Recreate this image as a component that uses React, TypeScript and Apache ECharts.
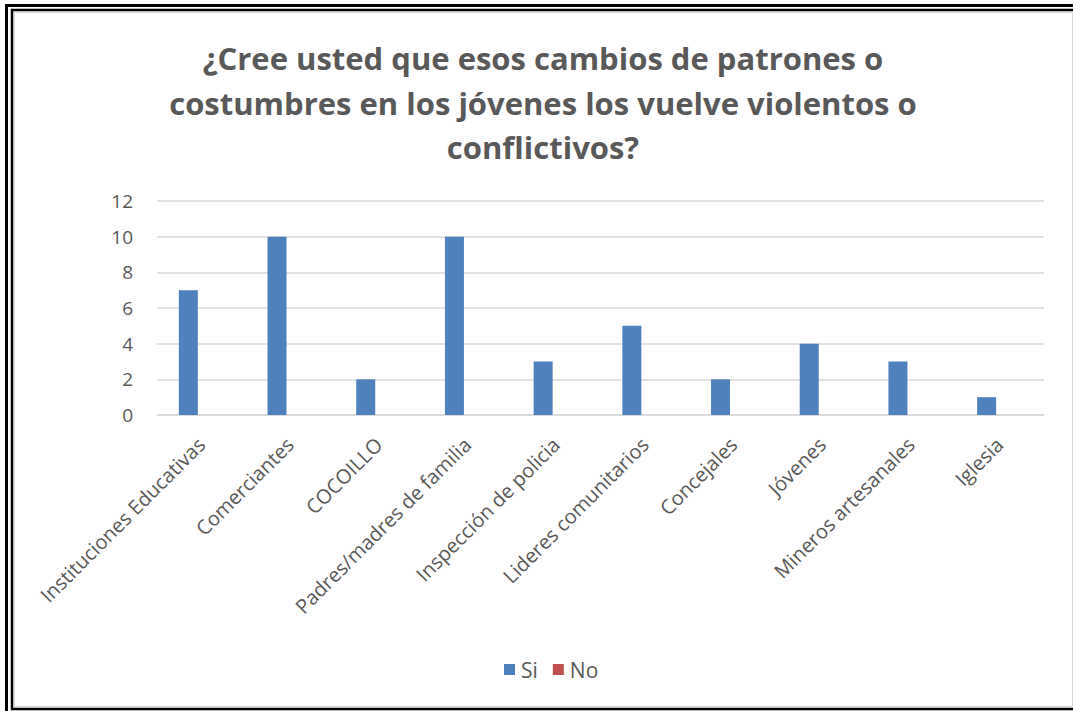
import React, { useEffect, useRef } from "react";
import * as echarts from "echarts";

const titleLines = [
  "¿Cree usted que esos cambios de patrones o",
  "costumbres en los jóvenes los vuelve violentos o",
  "conflictivos?",
];
const categories = [
  "Instituciones Educativas",
  "Comerciantes",
  "COCOILLO",
  "Padres/madres de familia",
  "Inspección de policia",
  "Lideres comunitarios",
  "Concejales",
  "Jóvenes",
  "Mineros artesanales",
  "Iglesia",
];
const siValues = [7, 10, 2, 10, 3, 5, 2, 4, 3, 1];
const noValues = [0, 0, 0, 0, 0, 0, 0, 0, 0, 0];
const yMin = 0;
const yMax = 12;
const yInterval = 2;

export default function App() {
  const ref = useRef<HTMLDivElement>(null);
  useEffect(() => {
    if (!ref.current) return;
    const chart = echarts.init(ref.current, null, { renderer: "svg" });
    const font = "'Open Sans', sans-serif";
    const titleTexts = titleLines.map((t, i) => ({
      type: "text",
      silent: true,
      x: 543,
      y: 58 + i * 44.5,
      style: {
        text: t,
        fontFamily: font,
        fontSize: 31,
        fontWeight: "bold",
        fill: "#595959",
        align: "center",
        verticalAlign: "middle",
      },
    }));
    chart.setOption({
      animation: false,
      backgroundColor: "#ffffff",
      legend: {
        data: ["Si", "No"],
        left: 499,
        top: 654,
        itemWidth: 11,
        itemHeight: 11,
        itemGap: 15,
        icon: "rect",
        textStyle: { fontFamily: font, fontSize: 21, color: "#595959", padding: [0, 0, 0, 1] },
      },
      grid: { left: 157, right: 29, top: 201, bottom: 296, containLabel: false },
      xAxis: {
        type: "category",
        data: categories,
        axisLine: { lineStyle: { color: "#D9D9D9", width: 1.5 } },
        axisTick: { show: false },
        axisLabel: {
          rotate: 45,
          interval: 0,
          margin: 26,
          fontFamily: font,
          fontSize: 20,
          color: "#595959",
        },
      },
      yAxis: {
        type: "value",
        min: yMin,
        max: yMax,
        interval: yInterval,
        axisLine: { show: false },
        axisTick: { show: false },
        splitLine: { lineStyle: { color: "#D9D9D9", width: 1.5 } },
        axisLabel: { margin: 24, fontFamily: font, fontSize: 19, color: "#595959" },
      },
      series: [
        {
          name: "Si",
          type: "bar",
          data: siValues,
          barWidth: 19,
          barGap: "37%",
          itemStyle: { color: "#4F81BD" },
        },
        {
          name: "No",
          type: "bar",
          data: noValues,
          barWidth: 19,
          itemStyle: { color: "#C0504D" },
        },
      ],
      graphic: [
        ...titleTexts,
        {
          type: "rect",
          silent: true,
          shape: { x: 14.5, y: 12.5, width: 1058, height: 694 },
          style: { fill: "none", stroke: "#D9D9D9", lineWidth: 1 },
        },
        {
          type: "rect",
          silent: true,
          shape: { x: 12, y: 10, width: 1080, height: 699 },
          style: { fill: "none", stroke: "#000000", lineWidth: 2.5 },
        },
        {
          type: "rect",
          silent: true,
          shape: { x: 6.5, y: 5.5, width: 1100, height: 720 },
          style: { fill: "none", stroke: "#000000", lineWidth: 3 },
        },
      ],
    });
    return () => chart.dispose();
  }, []);
  return (
    <div style={{ position: "fixed", left: 0, top: 0, width: 1073, height: 711 }}>
      <div ref={ref} style={{ width: 1073, height: 711 }} />
    </div>
  );
}
